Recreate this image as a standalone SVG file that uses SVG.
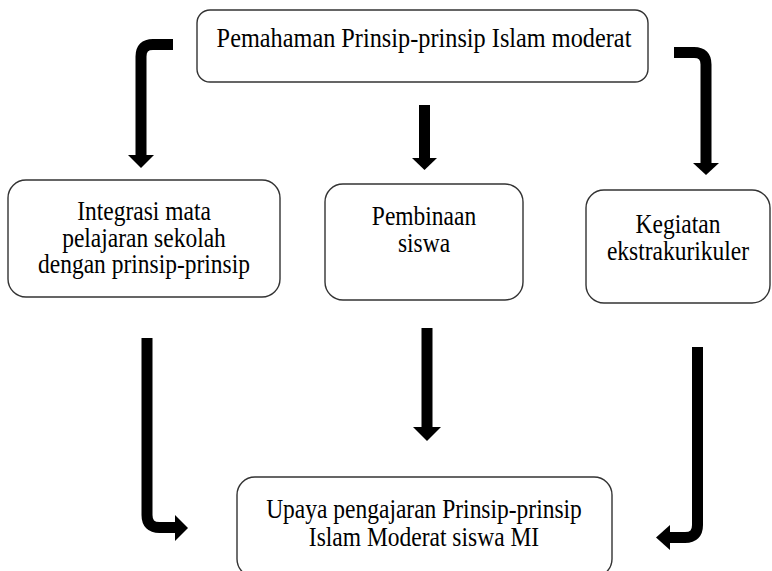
<svg xmlns="http://www.w3.org/2000/svg" width="772" height="571" viewBox="0 0 772 571">
<style>
.box{fill:#fff;stroke:#333;stroke-width:1.4}
.t{font-family:"Liberation Serif","Times New Roman",serif;font-size:23.5px;fill:#000;text-anchor:middle}
.sh{fill:none;stroke:#000;stroke-width:11}
.hd{fill:#000}
</style>
<rect width="772" height="571" fill="#fff"/>
<g id="connectors">
<path class="sh" d="M173 44.5 H153 Q141 44.5 141 56.5 V156"/>
<polygon class="hd" points="128,155 154,155 141,168"/>
<path class="sh" d="M674 52.5 H694 Q706 52.5 706 64.5 V164"/>
<polygon class="hd" points="693,163 719,163 706,175"/>
<path class="sh" d="M424.5 105 V159"/>
<polygon class="hd" points="412,158 437,158 424.5,170"/>
<path class="sh" d="M147 338 V515 Q147 527.5 159.5 527.5 H176"/>
<polygon class="hd" points="175,515 175,541 188,528"/>
<path class="sh" d="M697.5 347 V525 Q697.5 537.5 685 537.5 H669"/>
<polygon class="hd" points="670,525 670,550 656,537.5"/>
<path class="sh" d="M427 328 V428"/>
<polygon class="hd" points="413,427 441,427 427,441"/>
</g>
<g id="top">
<rect class="box" x="197" y="10" width="451" height="72" rx="13"/>
<text class="t" transform="translate(424 47) scale(1 1.12)" style="font-size:24.3px">Pemahaman Prinsip-prinsip Islam moderat</text>
</g>
<g id="integrasi">
<rect class="box" x="8" y="180" width="272" height="117" rx="18"/>
<text class="t" transform="translate(144 220) scale(1 1.12)">Integrasi mata</text>
<text class="t" transform="translate(144 247) scale(1 1.12)">pelajaran sekolah</text>
<text class="t" transform="translate(144 273) scale(1 1.12)">dengan prinsip-prinsip</text>
</g>
<g id="pembinaan">
<rect class="box" x="325" y="184" width="198" height="116" rx="18"/>
<text class="t" transform="translate(424 225) scale(1 1.12)">Pembinaan</text>
<text class="t" transform="translate(424 252) scale(1 1.12)">siswa</text>
</g>
<g id="kegiatan">
<rect class="box" x="586" y="190" width="184" height="113" rx="18"/>
<text class="t" transform="translate(678 233) scale(1 1.12)">Kegiatan</text>
<text class="t" transform="translate(678 260) scale(1 1.12)">ekstrakurikuler</text>
</g>
<g id="upaya">
<rect class="box" x="237" y="477" width="375" height="100" rx="18"/>
<text class="t" transform="translate(424 518) scale(1 1.12)">Upaya pengajaran Prinsip-prinsip</text>
<text class="t" transform="translate(424 546) scale(1 1.12)">Islam Moderat siswa MI</text>
</g>
</svg>
